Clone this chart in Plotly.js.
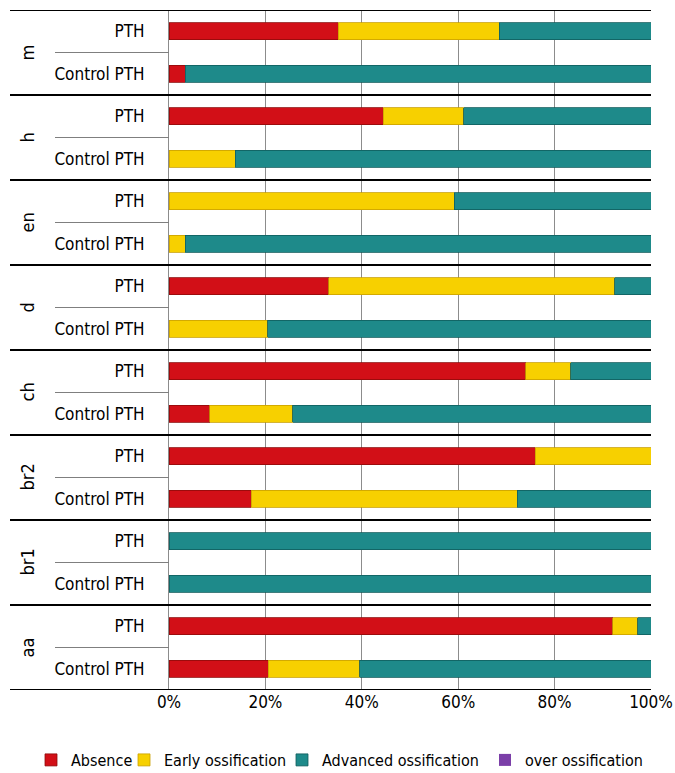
<!DOCTYPE html>
<html>
<head>
<meta charset="utf-8">
<script src="https://cdn.plot.ly/plotly-3.0.1.min.js"></script>
<style>html,body{margin:0;padding:0;background:#fff;}#chart{width:675px;height:773px;}</style>
</head>
<body>
<div id="chart"></div>
<script>
var groups = ['m', 'h', 'en', 'd', 'ch', 'br2', 'br1', 'aa'];
var subgroups = ['PTH', 'Control PTH'];
var seriesNames = ['Absence', 'Early ossification', 'Advanced ossification', 'over ossification'];
var seriesColors = ['#D20F17', '#F7D000', '#1E8A8A', '#7B3FA8'];
var lineColors = ['#8E0A0A', '#C9A000', '#0F5C5C', '#4F2570'];
// rows: m PTH, m Control PTH, h PTH, h Control PTH, ...
var absence  = [35.1, 3.4, 44.5, 0,    0,    0,    33.1, 0,    74.0, 8.5,  76.0, 17.1, 0,   0,   92.1, 20.6];
var early    = [33.4, 0,   16.6, 13.7, 59.2, 3.4,  59.4, 20.5, 9.4,  17.2, 24.0, 55.2, 0,   0,   5.2,  19.0];
var advanced = [31.5, 96.6, 38.9, 86.3, 40.8, 96.6, 7.5, 79.5, 16.6, 74.3, 0,    27.7, 100, 100, 2.7,  60.4];
var over     = [0, 0, 0, 0, 0, 0, 0, 0, 0, 0, 0, 0, 0, 0, 0, 0];
var xTickVals = [0, 20, 40, 60, 80, 100];
var xTickText = ['0%', '20%', '40%', '60%', '80%', '100%'];

var FONT = 'DejaVu Sans Condensed, Liberation Sans Narrow, Arial Narrow, Liberation Sans, sans-serif';
var rowPos = [], rowText = [];
groups.forEach(function (g, gi) {
  subgroups.forEach(function (s, si) {
    rowPos.push(gi * subgroups.length + si);
    rowText.push(s);
  });
});
var legendIds = ['legend', 'legend2', 'legend3', 'legend4'];
var legendTextStart = [67, 160, 318, 521];
var seriesVals = [absence, early, advanced, over];
var traces = seriesVals.map(function (vals, k) {
  return {
    type: 'bar', orientation: 'h', name: seriesNames[k], legend: legendIds[k],
    x: vals, y: rowPos,
    marker: {color: seriesColors[k], line: {color: lineColors[k], width: vals.map(function (v) { return v > 0 ? 0.8 : 0; })}},
    hoverinfo: 'x+name'
  };
});

var shapes = [];
var annotations = [];
var L = 169, W = 482, T = 10, H = 680;
function px2paper(p) { return (p - L) / W; }
for (var gi = 0; gi <= groups.length; gi++) {
  var yb = gi * subgroups.length - 0.5;
  shapes.push({type: 'line', xref: 'paper', yref: 'y', x0: px2paper(10), x1: 1, y0: yb, y1: yb,
    line: {color: '#000', width: 2}});
}
groups.forEach(function (g, gi) {
  var yi = gi * subgroups.length + 0.5;
  shapes.push({type: 'line', xref: 'paper', yref: 'y', x0: px2paper(55), x1: 0, y0: yi, y1: yi,
    line: {color: '#7f7f7f', width: 1}});
  annotations.push({xref: 'paper', yref: 'y', x: px2paper(27), y: yi, text: g, showarrow: false,
    textangle: -90, font: {family: FONT, size: 18, color: '#000'}, xanchor: 'center', yanchor: 'middle'});
});

var layout = {
  width: 675, height: 773,
  margin: {l: 169, r: 24, t: 10, b: 83},
  paper_bgcolor: '#fff', plot_bgcolor: '#fff',
  barmode: 'stack', bargap: 0.6,
  showlegend: true,
  xaxis: {range: [0, 100], tickvals: xTickVals, ticktext: xTickText, showgrid: true, gridcolor: '#8c8c8c', gridwidth: 1,
    zeroline: false, showline: false, ticks: '', tickfont: {family: FONT, size: 17, color: '#000'}, fixedrange: true},
  yaxis: {range: [rowPos.length - 0.5, -0.5], tickvals: rowPos, ticktext: rowText, ticks: '',
    showgrid: false, zeroline: false, showline: true, linecolor: '#8c8c8c', linewidth: 1,
    tickfont: {family: FONT, size: 17, color: '#000'}, ticklabelstandoff: 20, fixedrange: true},
  shapes: shapes,
  annotations: annotations
};
legendIds.forEach(function (id, k) {
  layout[id] = {orientation: 'h', xref: 'container', yref: 'container',
    x: (legendTextStart[k] - 36) / 675, xanchor: 'left', y: (773 - 760) / 773, yanchor: 'middle',
    font: {family: FONT, size: 16, color: '#000'}, itemwidth: 30, bgcolor: 'rgba(0,0,0,0)'};
});
Plotly.newPlot('chart', traces, layout, {displayModeBar: false, staticPlot: true});
</script>
</body>
</html>
